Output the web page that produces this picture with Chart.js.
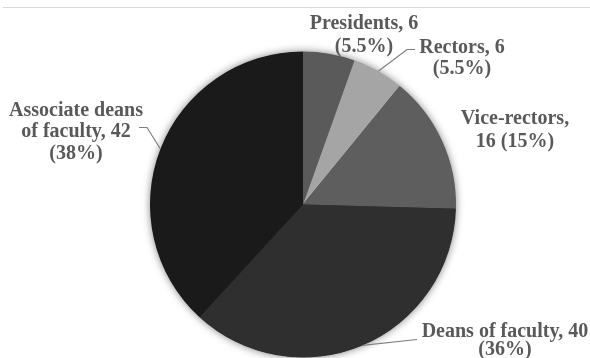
<!DOCTYPE html>
<html>
<head>
<meta charset="utf-8">
<script src="https://cdn.jsdelivr.net/npm/chart.js@4/dist/chart.umd.min.js"></script>
<style>
  html, body { margin: 0; padding: 0; background: #fff; }
  #wrap { width: 590px; height: 358px; position: relative; }
</style>
</head>
<body>
<div id="wrap"><canvas id="pieChart"></canvas></div>
<script>
// data
const categories = ['Presidents', 'Rectors', 'Vice-rectors', 'Deans of faculty', 'Associate deans of faculty'];
const counts = [6, 6, 16, 40, 42];
const shares = ['5.5%', '5.5%', '15%', '36%', '38%'];
const sliceColors = ['#5a5a5a', '#a5a5a5', '#5e5e5e', '#2f2f2f', '#1a1a1a'];

// how each label is broken into lines
const labelLines = [
    ['Presidents, 6', '(5.5%)'],
    ['Rectors, 6', '(5.5%)'],
    ['Vice-rectors,', '16 (15%)'],
    ['Deans of faculty, 40', '(36%)'],
    ['Associate deans', 'of faculty, 42', '(38%)']
];

// label placement (centre of first line) and leader lines, relative to the pie centre
const labelPos = [
    { dx: 61, dy: -181, gap: 23 },
    { dx: 159, dy: -157, gap: 21 },
    { dx: 212, dy: -86, gap: 23 },
    { dx: 202, dy: 127, gap: 18.5 },
    { dx: -227, dy: -94, gap: 21.5 }
];
const leaders = [
    null,
    [[104, -155], [112, -155]],
    null,
    [[114, 135]],
    [[-156, -77], [-164, -77]]
];

const pieDecor = {
    id: 'pieDecor',
    beforeDraw(chart) {
        const ctx = chart.ctx;
        ctx.save();
        ctx.strokeStyle = '#d9d9d9';
        ctx.lineWidth = 1;
        ctx.beginPath();
        ctx.moveTo(3, 7.5);
        ctx.lineTo(590, 7.5);
        ctx.stroke();
        ctx.restore();
    },
    beforeDatasetsDraw(chart) {
        // soft shadow round the whole pie
        const arc = chart.getDatasetMeta(0).data[0];
        const ctx = chart.ctx;
        ctx.save();
        ctx.shadowColor = 'rgba(0,0,0,0.55)';
        ctx.shadowBlur = 9;
        ctx.fillStyle = '#333';
        ctx.beginPath();
        ctx.arc(arc.x, arc.y, arc.outerRadius - 0.5, 0, Math.PI * 2);
        ctx.fill();
        ctx.restore();
    },
    afterDatasetsDraw(chart) {
        const ctx = chart.ctx;
        const arcs = chart.getDatasetMeta(0).data;
        const cx = arcs[0].x, cy = arcs[0].y;
        ctx.save();
        // leader lines
        ctx.strokeStyle = '#7f7f7f';
        ctx.lineWidth = 1.2;
        arcs.forEach((a, i) => {
            if (!leaders[i]) return;
            const mid = (a.startAngle + a.endAngle) / 2;
            ctx.beginPath();
            ctx.moveTo(cx + Math.cos(mid) * a.outerRadius, cy + Math.sin(mid) * a.outerRadius);
            leaders[i].forEach(p => ctx.lineTo(cx + p[0], cy + p[1]));
            ctx.stroke();
        });
        // labels
        ctx.fillStyle = '#595959';
        ctx.font = 'bold 20px "Liberation Serif", "Times New Roman", serif';
        ctx.textAlign = 'center';
        ctx.textBaseline = 'middle';
        labelLines.forEach((lines, i) => {
            const p = labelPos[i];
            lines.forEach((t, k) => {
                ctx.fillText(t, cx + p.dx, cy + p.dy + k * p.gap);
            });
        });
        ctx.restore();
    }
};

new Chart(document.getElementById('pieChart'), {
    type: 'pie',
    data: {
        labels: categories,
        datasets: [{
            data: counts,
            backgroundColor: sliceColors,
            borderWidth: 0
        }]
    },
    options: {
        responsive: true,
        maintainAspectRatio: false,
        animation: false,
        layout: { padding: { top: 51.5, bottom: 0.5, left: 150, right: 134 } },
        plugins: {
            legend: { display: false },
            tooltip: { enabled: false }
        }
    },
    plugins: [pieDecor]
});
</script>
</body>
</html>
